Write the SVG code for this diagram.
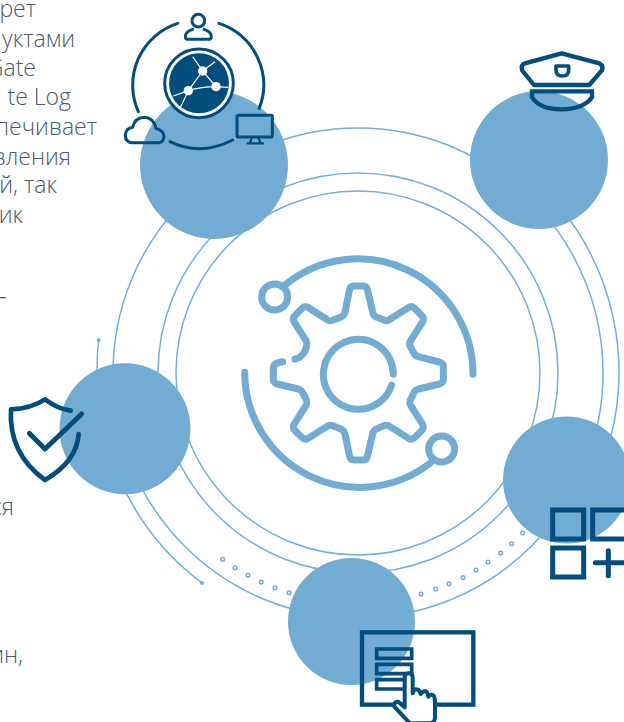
<svg xmlns="http://www.w3.org/2000/svg" width="624" height="722" viewBox="0 0 624 722">
<style>
.t{font-family:"Open Sans","Noto Sans",sans-serif;font-weight:300;font-size:23px;fill:#4a5a6a;text-anchor:end}
.r{fill:none;stroke:#74afd5;stroke-width:1.5}
.d{fill:#fff;stroke:#74afd5;stroke-width:1.5}
.e{fill:#74afd5}
.c{fill:#72acd3}
.i{fill:none;stroke:#014d7e;stroke-linecap:round;stroke-linejoin:round}
.g{fill:none;stroke:#72acd3;stroke-linecap:round;stroke-linejoin:round}
</style>
<g id="text">
<text class="t" x="36" y="17">рет</text>
<text class="t" x="75" y="47">уктами</text>
<text class="t" x="36" y="76">Gate</text>
<text class="t" x="71" y="105">te Log</text>
<text class="t" x="97" y="135">печивает</text>
<text class="t" x="71" y="165">вления</text>
<text class="t" x="57" y="193">й, так</text>
<text class="t" x="23" y="223">ик</text>
<text class="t" x="7" y="304">–</text>
<text class="t" x="14" y="515">ся</text>
<text class="t" x="23" y="663">ин,</text>
</g>
<g id="connectors">
<circle class="r" cx="358" cy="373" r="182"/>
<circle class="r" cx="358" cy="373" r="200"/>
<circle class="r" cx="358" cy="373" r="245"/>
<path class="r" d="M98.700 340A261 261 0 0 0 97 372"/>
<path class="r" d="M120 480A261 261 0 0 0 202 583"/>
<path class="r" d="M560 207A261 261 0 0 1 610 440"/>
<circle class="e" cx="98.700" cy="340" r="2"/>
<circle class="e" cx="202" cy="583" r="2"/>
<g id="dots">
<circle class="d" cx="222.700" cy="559.300" r="1.800"/><circle class="d" cx="235" cy="567.700" r="1.800"/><circle class="d" cx="248" cy="575.300" r="1.800"/><circle class="d" cx="261.300" cy="582" r="1.800"/><circle class="d" cx="275" cy="587.700" r="1.800"/><circle class="d" cx="289" cy="592.700" r="1.800"/>
<circle class="d" cx="421" cy="594" r="1.800"/><circle class="d" cx="435.700" cy="589" r="1.800"/><circle class="d" cx="449" cy="583.700" r="1.800"/><circle class="d" cx="463" cy="577.500" r="1.800"/><circle class="d" cx="476" cy="570" r="1.800"/><circle class="d" cx="488" cy="562" r="1.800"/><circle class="d" cx="500.700" cy="553" r="1.800"/><circle class="d" cx="511.700" cy="543.700" r="1.800"/><circle class="d" cx="522.700" cy="533" r="1.800"/>
</g>
</g>
<g id="node-network">
<circle class="c" cx="214" cy="165" r="74"/>
<g transform="scale(.33333)">
<path class="i" stroke-width="9" d="M415 335A195 195 0 0 1 533 70M657 70A195 195 0 0 1 778 325M510 425Q600 470 698 420"/>
<circle cx="597" cy="250" r="103" fill="#fff" stroke="#014d7e" stroke-width="9"/>
<circle cx="597" cy="250" r="90" fill="#014d7e"/>
<path fill="none" stroke="#fff" stroke-width="3.500" d="M578 170L608 213L645 185M608 213L648 260M608 213L565 272M520 288L565 272Q605 260 648 260L685 262M565 272L540 325"/>
<circle cx="608" cy="213" r="14" fill="#fff"/><circle cx="648" cy="260" r="14" fill="#fff"/><circle cx="565" cy="272" r="14" fill="#fff"/>
<circle class="i" cx="595" cy="62" r="19" stroke-width="9"/>
<path class="i" stroke-width="9" d="M578 88Q556 95 556 110Q556 118 565 118H625Q634 118 634 110Q634 95 612 88"/>
<path class="i" stroke-width="9" fill="#fff" d="M395 428Q375 425 376 405Q378 385 398 382Q405 352 435 352Q462 355 468 385Q492 392 492 410Q490 428 475 428Z"/>
<rect class="i" stroke-width="9" x="711" y="346" width="106" height="65" rx="4"/>
<path class="i" stroke-width="7" d="M755 412L750 430M775 412L782 430M743 430H789"/>
</g>
</g>
<g id="node-cap">
<circle class="c" cx="539" cy="160" r="69"/>
<g transform="translate(460,30) scale(.33333)">
<path class="i" stroke-width="13" d="M305 70L418 100Q432 108 425 122L388 165H222L187 122Q180 105 195 100Z"/>
<path class="i" stroke-width="13" style="stroke-linejoin:miter" d="M216 184H396V202Q370 238 305 238Q240 238 216 202Z"/>
<path class="i" stroke-width="11" d="M288 108H326V120Q326 138 307 138Q288 138 288 120Z"/>
</g>
</g>
<g id="node-shield">
<circle class="c" cx="125" cy="428.700" r="65.500"/>
<g transform="translate(0,280) scale(.33333)">
<path class="i" stroke-width="14" d="M212 392Q170 385 135 358Q95 385 33 388Q25 520 135 600Q230 545 236 462"/>
<path class="i" stroke-width="15" d="M88 460L135 507L245 402"/>
</g>
</g>
<g id="node-grid">
<circle class="c" cx="566.500" cy="480" r="63.500"/>
<g transform="translate(460,400) scale(.33333)">
<path fill="none" stroke="#014d7e" stroke-width="15" d="M278 330H371V417H278ZM398 330H500V417H398ZM278 444H371V531H278Z"/>
<path class="i" stroke-width="15" d="M406 488H490M445 452V527"/>
</g>
</g>
<g id="node-screen">
<circle class="c" cx="351.500" cy="621.500" r="63.500"/>
<g transform="translate(200,530) scale(.33333)">
<rect x="486" y="307" width="334" height="217" fill="none" stroke="#014d7e" stroke-width="13"/>
<path fill="none" stroke="#014d7e" stroke-width="11" d="M530 357H635V385H530ZM530 403H635V431H530ZM530 449H615V477H530Z"/>
<path fill="#fff" stroke="#014d7e" stroke-width="12" stroke-linejoin="round" d="M614 442Q614 430 626 430Q638 430 638 442V490Q640 478 650 478Q660 480 662 492Q668 482 678 484Q684 488 685 500Q695 490 702 498Q705 505 705 520V560Q705 580 690 580H630L583 530Q580 515 595 515L614 532Z"/>
</g>
</g>
<g id="node-gear">
<g transform="translate(230,240) scale(.33333)">
<path class="g" stroke-width="21" d="M158 365Q130 368 130 385V420Q130 428 142 432L205 447Q215 450 218 458L230 482Q232 490 228 496L192 553Q188 562 192 568L215 592Q225 600 233 596L290 560Q298 553 308 557L335 568Q342 572 345 582L358 645Q360 660 372 660H400Q410 660 413 645L428 582Q430 572 437 568L462 557Q472 553 480 560L537 596Q545 600 555 592L578 568Q582 562 578 553L542 496Q538 490 540 482L552 458Q555 450 565 447L628 432Q640 428 640 420V378Q640 370 628 366L565 350Q555 347 552 340L540 318Q537 310 542 302L578 245Q582 238 578 230L555 206Q545 196 537 202L480 238Q472 245 462 240L437 230Q430 226 428 216L413 152Q410 138 400 138H372Q360 138 358 152L345 216Q342 226 335 230L308 241Q298 245 290 238L233 202Q225 196 215 206L192 230Q188 238 192 245L228 302Q232 310 230 318Q222 352 195 357"/>
<path class="g" stroke-width="21" d="M490 403A105 105 0 1 0 485 435"/>
<path class="g" stroke-width="21" d="M165 135A345 345 0 0 1 729 403M44 397A345 345 0 0 0 600 670"/>
<circle class="g" cx="134" cy="171" r="39" stroke-width="21"/>
<circle class="g" cx="635" cy="627" r="39" stroke-width="21"/>
</g>
</g>
</svg>
